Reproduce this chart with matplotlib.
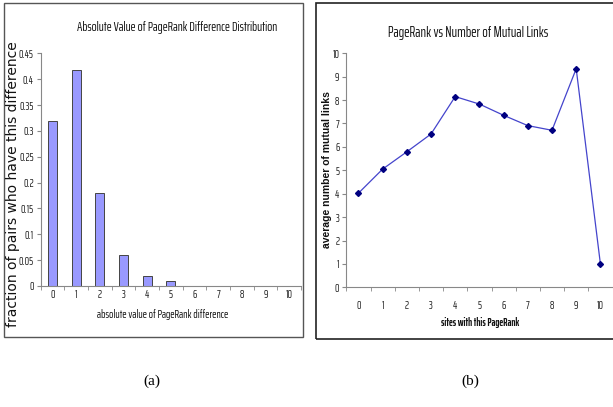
import matplotlib
matplotlib.use("Agg")
import matplotlib.pyplot as plt
from matplotlib.patches import Rectangle
import numpy as np

# Data
diff_categories = [0, 1, 2, 3, 4, 5, 6, 7, 8, 9, 10]
diff_fraction = [0.32, 0.417, 0.179, 0.059, 0.019, 0.0097, 0, 0, 0, 0, 0]

pr_categories = [0, 1, 2, 3, 4, 5, 6, 7, 8, 9, 10]
mutual_links = [4.02, 5.05, 5.79, 6.55, 8.15, 7.83, 7.35, 6.91, 6.71, 9.34, 1.0]

y_ticks_a = [0, 0.05, 0.1, 0.15, 0.2, 0.25, 0.3, 0.35, 0.4, 0.45]
y_ticklabels_a = ["0", "0.05", "0.1", "0.15", "0.2", "0.25", "0.3", "0.35", "0.4", "0.45"]
y_ticks_b = list(range(0, 11))

NARROW = ['Saira ExtraCondensed', 'Roboto Condensed', 'DejaVu Sans']

W, H = 613, 407
fig = plt.figure(figsize=(W / 100, H / 100), dpi=100)

def fx(px):
    return px / W

def fy(py):
    return 1 - py / H

# Frames
fig.patches.append(Rectangle((fx(4), fy(337)), fx(303) - fx(4), fy(3) - fy(337),
                             transform=fig.transFigure, fill=False, edgecolor='#555555', lw=1.0))
fig.patches.append(Rectangle((fx(316.5), fy(338.5)), fx(640) - fx(316.5), fy(3) - fy(338.5),
                             transform=fig.transFigure, fill=False, edgecolor='#222222', lw=1.2))

def style_axes(ax, xpad):
    for s in ['top', 'right']:
        ax.spines[s].set_visible(False)
    for s in ['left', 'bottom']:
        ax.spines[s].set_color('#888888')
        ax.spines[s].set_linewidth(0.8)
    ax.set_xlim(-0.5, 10.5)
    ax.set_xticks(diff_categories)
    ax.set_xticks(np.arange(-0.5, 10.6, 1), minor=True)
    ax.tick_params(axis='x', which='major', length=0, pad=xpad)
    ax.tick_params(axis='x', which='minor', length=3, color='#888888', direction='out')
    ax.tick_params(axis='y', length=3, color='#888888', direction='out', pad=2)
    for lab in ax.get_xticklabels() + ax.get_yticklabels():
        lab.set_family(NARROW)
        lab.set_fontsize(8)
        lab.set_color('#222222')

# Left chart (a)
ax1 = fig.add_axes([fx(40.7), fy(286), fx(301) - fx(40.7), fy(53.3) - fy(286)])
ax1.bar(diff_categories, diff_fraction, width=0.38, color='#9999FF', edgecolor='#444444', linewidth=0.7)
ax1.set_ylim(0, 0.45)
ax1.set_yticks(y_ticks_a)
ax1.set_yticklabels(y_ticklabels_a)
style_axes(ax1, 2.5)
fig.text(fx(163), fy(315), "absolute value of PageRank difference", ha='center', va='center',
         family=NARROW, fontsize=8.2, color='#111111')
fig.text(fx(13), fy(184), "fraction of pairs who have this difference", rotation=90,
         ha='center', va='center', fontsize=10, family='DejaVu Sans', color='#111111')
fig.text(fx(177.5), fy(28), "Absolute Value of PageRank Difference Distribution",
         ha='center', va='center', family=NARROW, fontsize=9.5, color='#111111')

# Right chart (b)
ax2 = fig.add_axes([fx(346.3), fy(287.3), fx(612.5) - fx(346.3), fy(53.3) - fy(287.3)])
ax2.plot(pr_categories, mutual_links, color='#4444CC', lw=0.9, marker='D', markersize=3,
         markerfacecolor='#000080', markeredgecolor='#000080')
ax2.set_ylim(0, 10)
ax2.set_yticks(y_ticks_b)
style_axes(ax2, 9)
fig.text(fx(480), fy(322), "sites with this PageRank", ha='center', va='center',
         family=NARROW, fontsize=7.5, fontweight='bold', color='#111111')
fig.text(fx(327), fy(170), "average number of mutual links", rotation=90,
         ha='center', va='center', fontsize=7.5, family='Liberation Sans', fontweight='bold', color='#111111')
fig.text(fx(468), fy(33), "PageRank vs Number of Mutual Links",
         ha='center', va='center', family=NARROW, fontsize=10.4, color='#111111')

# Captions
fig.text(fx(152), fy(381), "(a)", ha='center', va='center', family='Liberation Serif', fontsize=11)
fig.text(fx(470), fy(381), "(b)", ha='center', va='center', family='Liberation Serif', fontsize=11)

fig.savefig("out.png", dpi=100)
